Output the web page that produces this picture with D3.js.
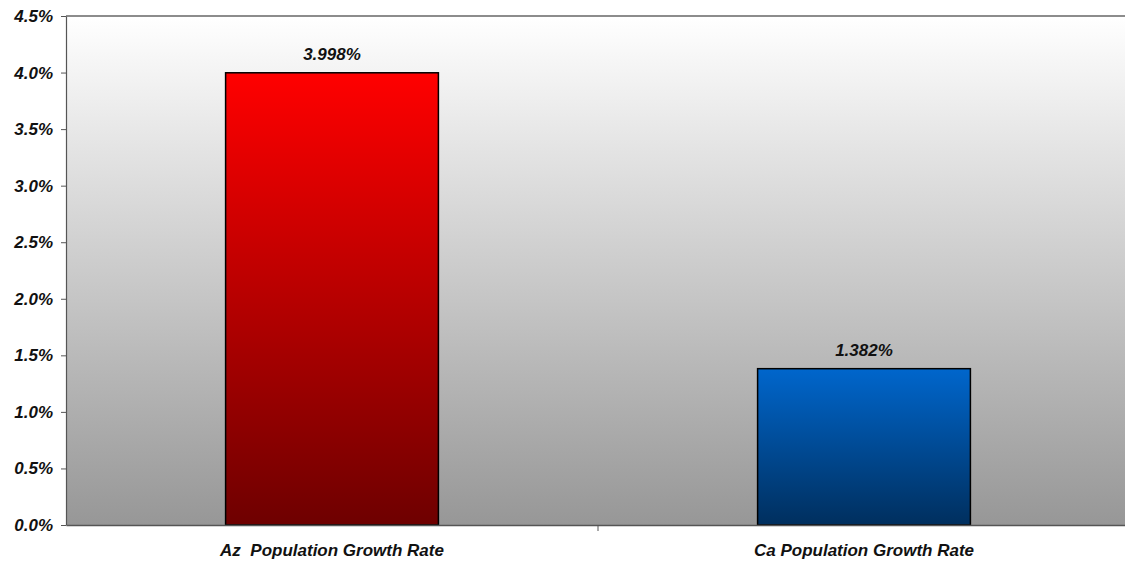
<!DOCTYPE html>
<html>
<head>
<meta charset="utf-8">
<script src="https://cdn.jsdelivr.net/npm/d3@7"></script>
<style>
  html, body { margin: 0; padding: 0; background: #fff; }
  svg { display: block; }
  text { font-family: "Liberation Sans", Arial, sans-serif; font-weight: bold; font-style: italic; white-space: pre; }
</style>
</head>
<body>
<svg id="chart" width="1125" height="563"></svg>
<script>
// Population growth rates, in percent
const categories = ["Az  Population Growth Rate", "Ca Population Growth Rate"];
const values = [3.998, 1.382];
const valueLabels = ["3.998%", "1.382%"];
const yTicks = [0, 0.5, 1.0, 1.5, 2.0, 2.5, 3.0, 3.5, 4.0, 4.5];

const FONT = '"Liberation Sans", Arial, sans-serif';
const FS = 17;

const svg = d3.select("#chart");
const margin = { left: 66, top: 16, bottom: 525, right: 1130 };

const x = d3.scaleBand().domain(categories).range([margin.left, margin.right]).paddingInner(0).paddingOuter(0);
const y = d3.scaleLinear().domain([0, 4.5]).range([margin.bottom, margin.top]);

const defs = svg.append("defs");
const bg = defs.append("linearGradient").attr("id", "bgGrad").attr("x1", 0).attr("y1", 0).attr("x2", 0).attr("y2", 1);
bg.append("stop").attr("offset", "0%").attr("stop-color", "#ffffff");
bg.append("stop").attr("offset", "100%").attr("stop-color", "#979797");

const barColors = [["#ff0000", "#6e0000"], ["#0066cc", "#002f5e"]];
barColors.forEach((c, i) => {
  const g = defs.append("linearGradient").attr("id", "barGrad" + i).attr("x1", 0).attr("y1", 0).attr("x2", 0).attr("y2", 1);
  g.append("stop").attr("offset", "0%").attr("stop-color", c[0]);
  g.append("stop").attr("offset", "100%").attr("stop-color", c[1]);
});

// plot background
svg.append("rect")
  .attr("x", margin.left).attr("y", margin.top)
  .attr("width", margin.right - margin.left).attr("height", margin.bottom - margin.top)
  .attr("fill", "url(#bgGrad)");

// top border
svg.append("line")
  .attr("x1", margin.left).attr("x2", margin.right)
  .attr("y1", margin.top).attr("y2", margin.top)
  .attr("stroke", "#8c8c8c").attr("stroke-width", 2);

// bars
const barW = x.bandwidth() * 0.4;
svg.selectAll(".bar").data(values).join("rect")
  .attr("class", "bar")
  .attr("x", (d, i) => x(categories[i]) + (x.bandwidth() - barW) / 2)
  .attr("y", d => y(d))
  .attr("width", barW)
  .attr("height", d => y(0) - y(d))
  .attr("fill", (d, i) => `url(#barGrad${i})`)
  .attr("stroke", "#000").attr("stroke-width", 1.5);

// value labels
svg.selectAll(".vlabel").data(values).join("text")
  .attr("class", "vlabel")
  .attr("x", (d, i) => x(categories[i]) + x.bandwidth() / 2)
  .attr("y", d => y(d) - 13)
  .attr("text-anchor", "middle")
  .attr("font-size", FS)
  .attr("fill", "#111")
  .text((d, i) => valueLabels[i]);

// y axis
const yAxis = svg.append("g")
  .attr("transform", `translate(${margin.left},0)`)
  .call(d3.axisLeft(y).tickValues(yTicks).tickFormat(d => d.toFixed(1) + "%").tickSize(5).tickSizeOuter(0));
yAxis.select(".domain").attr("stroke", "#555").attr("stroke-width", 1.2);
yAxis.selectAll(".tick line").attr("stroke", "#555");
yAxis.selectAll(".tick text").attr("font-size", FS).attr("fill", "#111").attr("dx", -5)
  .style("font-family", FONT).style("font-weight", "bold").style("font-style", "italic");

// x axis
const xAxis = svg.append("g")
  .attr("transform", `translate(0,${margin.bottom})`)
  .call(d3.axisBottom(x).tickSize(0).tickSizeOuter(0));
xAxis.select(".domain").attr("stroke", "#555").attr("stroke-width", 1.5);
xAxis.selectAll(".tick text").attr("font-size", FS).attr("fill", "#111").attr("dy", "1.65em")
  .style("font-family", FONT).style("font-weight", "bold").style("font-style", "italic")
  .style("white-space", "pre");

// category separator ticks
const seps = categories.slice(1).map(c => x(c));
svg.selectAll(".sep").data(seps).join("line")
  .attr("class", "sep")
  .attr("x1", d => d).attr("x2", d => d)
  .attr("y1", margin.bottom).attr("y2", margin.bottom + 6)
  .attr("stroke", "#555");
</script>
</body>
</html>
